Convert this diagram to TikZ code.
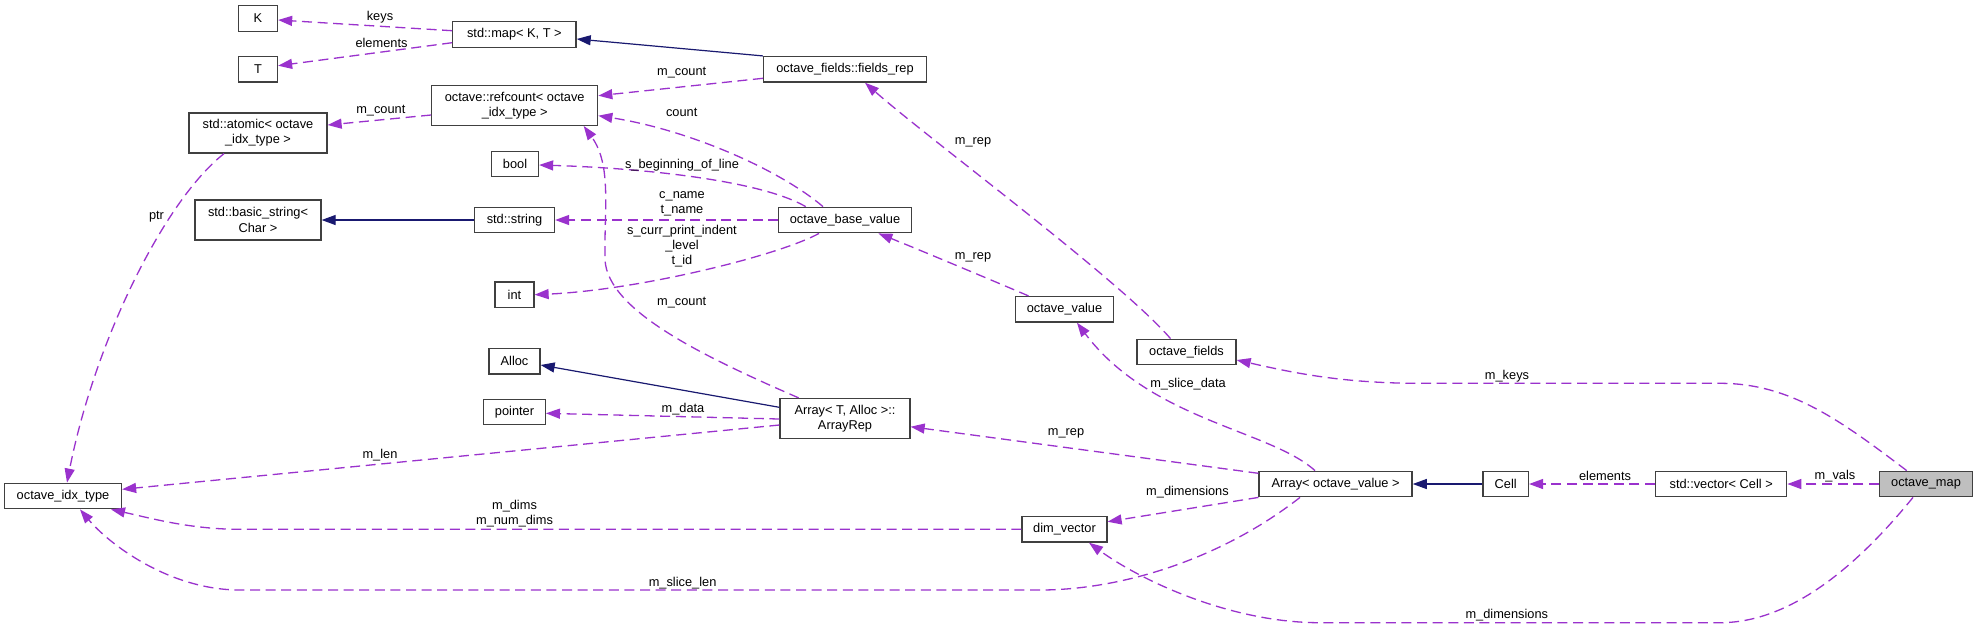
\documentclass[tikz,border=0pt]{standalone}
\usepackage{fontspec}
\setmainfont{Liberation Sans}
\usetikzlibrary{arrows.meta}
\definecolor{usecol}{HTML}{9A32CD}
\definecolor{inhcol}{HTML}{191970}
\definecolor{bordcol}{HTML}{404040}
\definecolor{selcol}{HTML}{BFBFBF}
\begin{document}
\begin{tikzpicture}[x=0.5pt,y=-0.5pt,
  cls/.style={draw=bordcol, line width=0.65pt, fill=white, inner sep=0pt, align=center,
    minimum height=12.75pt, font=\fontsize{6.4}{7.6}\selectfont},
  twoline/.style={minimum height=20pt},
  lbl/.style={inner sep=0pt, align=center, font=\fontsize{6.4}{7.6}\selectfont},
  usage/.style={draw=usecol, line width=0.65pt, dash pattern=on 5pt off 2.8pt,
    -{Triangle[length=7pt,width=5pt,fill=usecol]}},
  inherit/.style={draw=inhcol, line width=0.6pt,
    -{Triangle[length=7pt,width=5pt,fill=inhcol]}}]
\fill[white] (0,0) rectangle (1977,629);
\useasboundingbox (0,0) rectangle (1977,629);
% nodes
\node[cls, minimum width=19.5pt] (K) at (258,18.5) {K};
\node[cls, minimum width=19.5pt] (T) at (258,69.3) {T};
\node[cls, minimum width=61.65pt] (map) at (514.4,34.5) {std::map< K, T >};
\node[cls, twoline, minimum width=83pt] (refcount) at (514.7,105.3) {octave::refcount< octave\\\_idx\_type >};
\node[cls, twoline, minimum width=69pt] (atomic) at (258,133) {std::atomic< octave\\\_idx\_type >};
\node[cls, minimum width=23.5pt] (bool) at (515,164) {bool};
\node[cls, twoline, minimum width=63pt] (bstr) at (258,220) {std::basic\_string<\\Char >};
\node[cls, minimum width=40pt] (str) at (514.5,220) {std::string};
\node[cls, minimum width=19.5pt] (int) at (514.5,294.7) {int};
\node[cls, minimum width=81.5pt] (frep) at (845,69.3) {octave\_fields::fields\_rep};
\node[cls, minimum width=66.2pt] (obv) at (845,220) {octave\_base\_value};
\node[cls, minimum width=48.8pt] (ov) at (1064.5,309.3) {octave\_value};
\node[cls, minimum width=49.5pt] (of) at (1186.5,352) {octave\_fields};
\node[cls, minimum width=25.5pt] (alloc) at (514.5,361.3) {Alloc};
\node[cls, minimum width=30.8pt] (ptr) at (514.5,412) {pointer};
\node[cls, twoline, minimum width=65pt] (arep) at (845,418.5) {Array< T, Alloc >::\\ArrayRep};
\node[cls, minimum width=58.5pt] (idx) at (63,496) {octave\_idx\_type};
\node[cls, minimum width=76.5pt] (aov) at (1335.6,484) {Array< octave\_value >};
\node[cls, minimum width=22.7pt] (cell) at (1505.7,484) {Cell};
\node[cls, minimum width=65.5pt] (vec) at (1721.2,484) {std::vector< Cell >};
\node[cls, minimum width=46.5pt, fill=selcol] (omap) at (1926,484) {octave\_map};
\node[cls, minimum width=42.5pt] (dimv) at (1064.5,529.3) {dim\_vector};
% edges
\draw[usage] ([shift={(0,-3.8)}]map.west) -- ([shift={(0,1.5)}]K.east);
\draw[usage] ([shift={(0,8.2)}]map.west) -- ([shift={(0,-3.6)}]T.east);
\draw[inherit] (frep.north west) -- ([shift={(0,4.5)}]map.east);
\draw[usage] ([shift={(0,9)}]frep.west) -- ([shift={(0,-9.6)}]refcount.east);
\draw[usage] ([shift={(-22,0)}]obv.north) .. controls (780,170) and (690,130) .. ([shift={(0,10.4)}]refcount.east);
\draw[usage] ([shift={(-39.3,0)}]obv.north) .. controls (760,180) and (640,168) .. ([shift={(0,1)}]bool.east);
\draw[usage] (obv.west) -- (str.east);
\draw[usage] ([shift={(-26,0)}]obv.south) .. controls (780,255) and (640,290) .. (int.east);
\draw[inherit] (str.west) -- (bstr.east);
\draw[usage] ([shift={(0,9.7)}]refcount.west) -- ([shift={(0,-8)}]atomic.east);
\draw[usage] ([shift={(-34,0)}]atomic.south) .. controls (165,200) and (95,340) .. ([shift={(4,0)}]idx.north);
\draw[usage] ([shift={(-36,0)}]ov.north) .. controls (1015,290) and (920,250) .. ([shift={(33.4,0)}]obv.south);
\draw[usage] ([shift={(-16,0)}]of.north) .. controls (1120,280) and (930,140) .. ([shift={(20,0)}]frep.south);
\draw[usage] ([shift={(-46.4,0)}]arep.north) .. controls (700,355) and (608,310) .. (605,260) .. controls (604,210) and (612,165) .. ([shift={(69,0)}]refcount.south);
\draw[inherit] ([shift={(0,-11.2)}]arep.west) -- ([shift={(0,3.7)}]alloc.east);
\draw[usage] ([shift={(0,0.5)}]arep.west) -- ([shift={(0,1.3)}]ptr.east);
\draw[usage] ([shift={(0,6.5)}]arep.west) -- ([shift={(0,-6.7)}]idx.east);
\draw[usage] ([shift={(0,-10.7)}]aov.west) -- ([shift={(0,8.2)}]arep.east);
\draw[usage] ([shift={(-20.6,0)}]aov.north) .. controls (1270,430) and (1150,420) .. ([shift={(12.5,0)}]ov.south);
\draw[usage] (aov.south west) -- ([shift={(0,-7.6)}]dimv.east);
\draw[usage] ([shift={(-35.6,0)}]aov.south) .. controls (1220,560) and (1120,590) .. (1040,590) -- (240,590) .. controls (170,590) and (110,545) .. ([shift={(17,0)}]idx.south);
\draw[usage] (dimv.west) -- (240,529.3) .. controls (190,529.3) and (150,518) .. ([shift={(48,0)}]idx.south);
\draw[inherit] (cell.west) -- (aov.east);
\draw[usage] (vec.west) -- (cell.east);
\draw[usage] (omap.west) -- (vec.east);
\draw[usage] ([shift={(-19.3,0)}]omap.north) .. controls (1840,420) and (1790,383.3) .. (1720,383.3) -- (1420,383.3) .. controls (1340,383.3) and (1290,372) .. ([shift={(0,8)}]of.east);
\draw[usage] ([shift={(-13,0)}]omap.south) .. controls (1870,550) and (1800,622.7) .. (1720,622.7) -- (1320,622.7) .. controls (1230,622.7) and (1140,580) .. ([shift={(24.5,0)}]dimv.south);
% labels
\node[lbl] (l1) at (380,16.7) {keys};
\node[lbl] (l2) at (381.5,42.7) {elements};
\node[lbl] (l3) at (681.7,72.7) {m\_count};
\node[lbl] (l4) at (380.8,110.7) {m\_count};
\node[lbl] (l5) at (681.7,112.7) {count};
\node[lbl] (l6) at (973,142.7) {m\_rep};
\node[lbl] (l7) at (682,164.7) {s\_beginning\_of\_line};
\node[lbl] (l8) at (682,204.2) {c\_name\\t\_name};
\node[lbl] (l9) at (682,246.2) {s\_curr\_print\_indent\\\_level\\t\_id};
\node[lbl] (l10) at (973,257) {m\_rep};
\node[lbl] (l11) at (156.5,217) {ptr};
\node[lbl] (l12) at (681.7,302.7) {m\_count};
\node[lbl] (l13) at (1188,383.7) {m\_slice\_data};
\node[lbl] (l14) at (1507,376) {m\_keys};
\node[lbl] (l15) at (683,408.7) {m\_data};
\node[lbl] (l16) at (1066,433) {m\_rep};
\node[lbl] (l17) at (380,455) {m\_len};
\node[lbl] (l18) at (1605,475.7) {elements};
\node[lbl] (l19) at (1835,475.7) {m\_vals};
\node[lbl] (l20) at (1187.5,492) {m\_dimensions};
\node[lbl] (l21) at (514.5,513.7) {m\_dims\\m\_num\_dims};
\node[lbl] (l22) at (682.6,582.7) {m\_slice\_len};
\node[lbl] (l23) at (1506.8,615.3) {m\_dimensions};
\end{tikzpicture}
\end{document}
